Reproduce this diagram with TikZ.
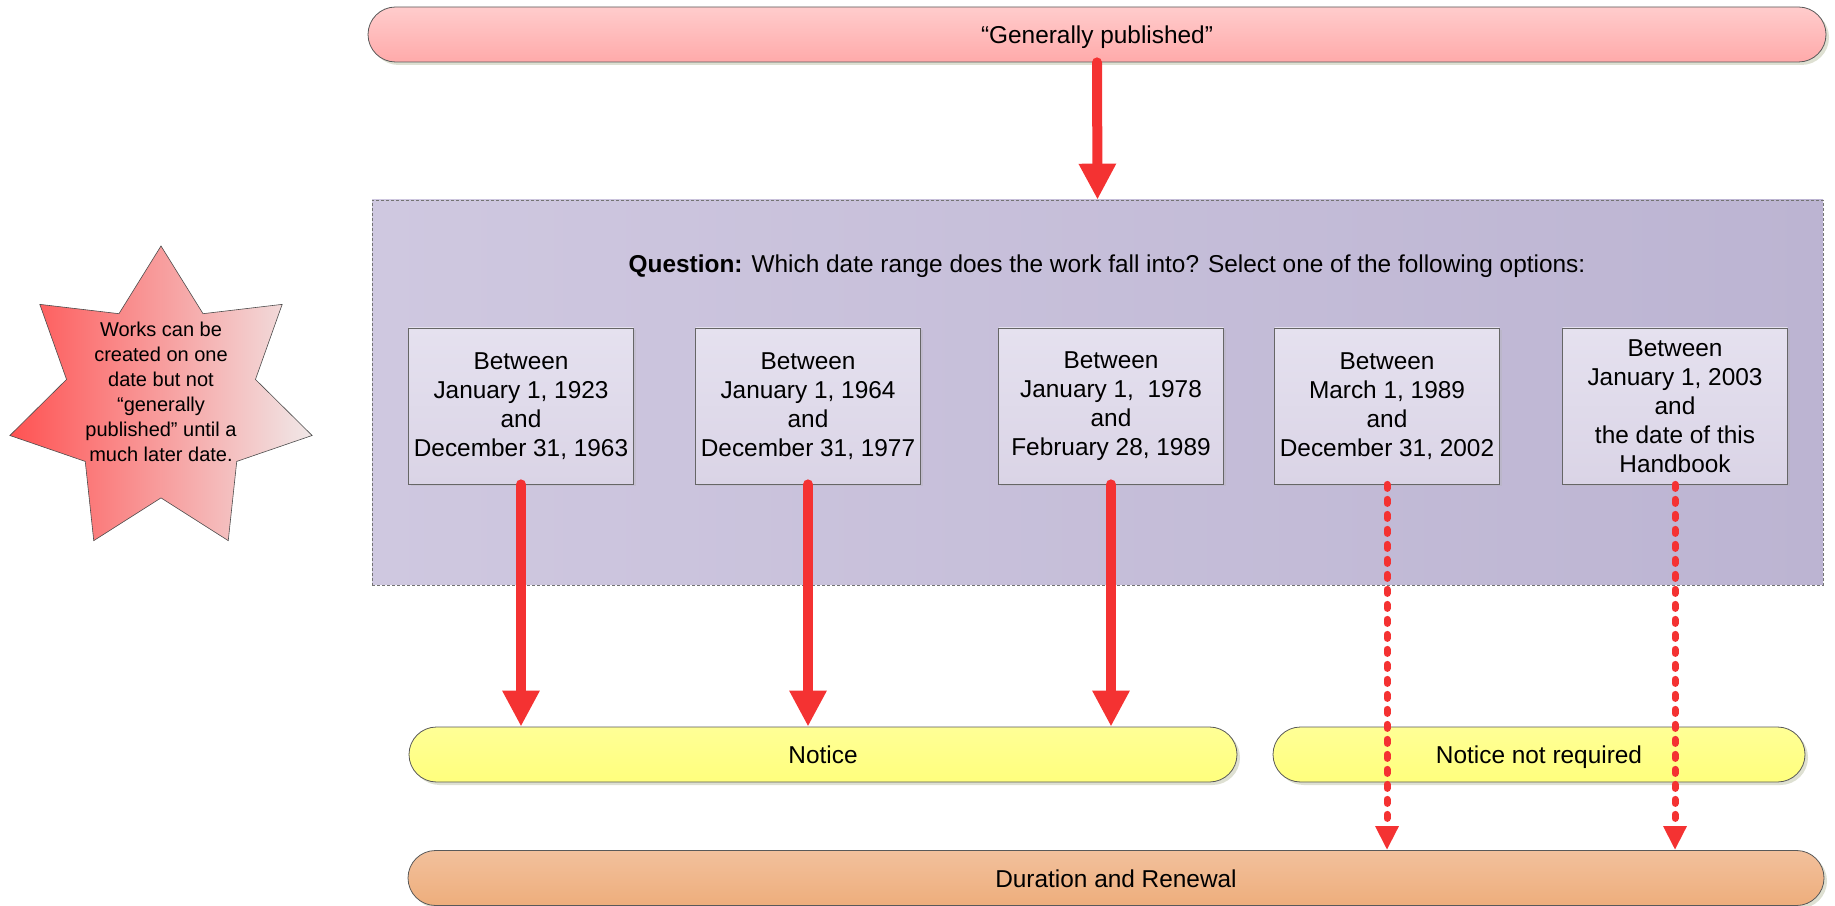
\documentclass[tikz,border=0pt]{standalone}
\usepackage{fontspec}
\setmainfont{Liberation Sans}
\usetikzlibrary{calc, positioning, shapes.geometric, shapes.misc, shadows, arrows.meta}

\definecolor{arrowred}{RGB}{244,50,50}
\definecolor{pubtop}{RGB}{255,204,204}
\definecolor{pubbot}{RGB}{255,170,170}
\definecolor{rangeleft}{RGB}{207,200,224}
\definecolor{rangeright}{RGB}{188,180,210}
\definecolor{boxtop}{RGB}{229,225,239}
\definecolor{boxbot}{RGB}{218,212,230}
\definecolor{noticetop}{RGB}{255,255,150}
\definecolor{noticebot}{RGB}{255,255,125}
\definecolor{durtop}{RGB}{242,192,156}
\definecolor{durbot}{RGB}{238,174,124}
\definecolor{starred}{RGB}{255,82,82}
\definecolor{starpale}{RGB}{240,232,232}
\definecolor{shadowgrey}{RGB}{200,204,180}

\begin{document}
\begin{tikzpicture}[x=1pt, y=1pt,
    every node/.style={font=\fontsize{24.4}{29}\selectfont, align=center, text=black},
    pill/.style={rounded rectangle, draw=black!65, line width=0.8pt, minimum height=55pt, inner sep=0pt,
                 text height=21pt, text depth=3pt,
                 drop shadow={shadow xshift=3pt, shadow yshift=-3pt, fill=shadowgrey, opacity=0.6}},
    datebox/.style={rectangle, draw=black!60, line width=0.8pt, minimum width=225pt, minimum height=156pt,
                 inner sep=0pt, top color=boxtop, bottom color=boxbot,
                 drop shadow={shadow xshift=2pt, shadow yshift=-2pt, fill=black!30, opacity=0.3}},
    flow/.style={draw=arrowred, line width=10pt, line cap=round, -{Triangle[width=35pt, length=36pt]}},
    maybe/.style={draw=arrowred, line width=7pt, line cap=round, dash pattern=on 4pt off 11pt,
                 -{Triangle[width=22pt, length=24pt]}}]

    \useasboundingbox (0,0) rectangle (1835,905); % same size as the original drawing, in px

    % the side note
    \node (burst) [star, star points=7, star point ratio=1.6, minimum size=310pt, inner sep=0pt,
                   draw=black!70, line width=0.6pt, left color=starred, right color=starpale,
                   label={[font=\fontsize{20}{25}\selectfont, align=center, yshift=9pt]center:Works can be\\created on one\\date but not\\``generally\\published'' until a\\much later date.}]
                   at (161,504) {};

    % top and question panel
    \node [pill, top color=pubtop, bottom color=pubbot, minimum width=1458pt] (pub) at (1097,870.5) {``Generally published''};
    \node (range) [rectangle, draw=black!55, line width=0.6pt, dash pattern=on 3pt off 2pt,
                   left color=rangeleft, right color=rangeright, minimum width=1451pt, minimum height=385pt]
                   at (1097.5,512.5) {};
    \node (question) at (1107,639) {\textbf{Question:} Which date range does the work fall into? Select one of the following options:};

    % the five date ranges
    \node [datebox] (b1) at (521,499)  {Between\\January 1, 1923\\and\\December 31, 1963};
    \node [datebox] (b2) at (808,499)  {Between\\January 1, 1964\\and\\December 31, 1977};
    \node [datebox] (b3) at (1111,499) {Between\\January 1, \ 1978\\and\\February 28, 1989};
    \node [datebox] (b4) at (1387,499) {Between\\March 1, 1989\\and\\December 31, 2002};
    \node [datebox] (b5) at (1675,499) {Between\\January 1, 2003\\and\\the date of this\\Handbook};

    % outcomes
    \node [pill, top color=noticetop, bottom color=noticebot, minimum width=828pt] (notice) at (823,150.5) {Notice};
    \node [pill, top color=noticetop, bottom color=noticebot, minimum width=532pt] (notreq) at (1539,150.5) {Notice not required};
    \node [pill, top color=durtop, bottom color=durbot, minimum width=1416pt] (dur) at (1116,27) {Duration and Renewal};

    % arrows
    \draw [flow] (pub.south) -- (range.north);
    \foreach \b in {b1, b2, b3} \draw [flow] (\b.south) -- (\b.south |- notice.north);
    \foreach \b in {b4, b5} \draw [maybe] (\b.south) -- (\b.south |- dur.north);

\end{tikzpicture}
\end{document}
